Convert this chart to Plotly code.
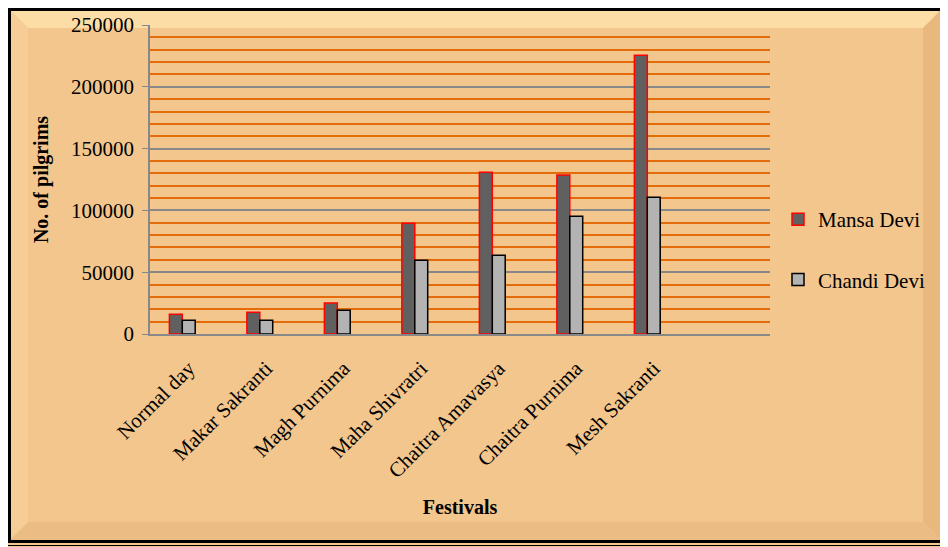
"""
Pilgrims per festival at Mansa Devi and Chandi Devi - grouped bar chart
"""

import plotly.graph_objects as go

# Data
festivals = [
    "Normal day",
    "Makar Sakranti",
    "Magh Purnima",
    "Maha Shivratri",
    "Chaitra Amavasya",
    "Chaitra Purnima",
    "Mesh Sakranti",
]
mansa_devi = [16000, 17500, 25000, 89600, 130800, 128600, 225500]
chandi_devi = [11100, 11100, 19200, 59600, 63700, 95200, 110600]

y_ticks = [0, 50000, 100000, 150000, 200000, 250000]

# Layout geometry (pixels). The page body adds an 8px margin, so the
# figure is drawn 8px smaller and everything is placed in figure pixels.
W, H = 940, 539
ML, MR, MT, MB = 142, 178, 17, 213
PW = W - ML - MR
PH = H - MT - MB

FONT = "Liberation Serif, Times New Roman, serif"
BG = "#F2C68D"


def px_x(p):
    # figure pixel -> paper x
    return (p - ML) / PW


def px_y(p):
    # figure pixel (from top) -> paper y
    return (H - MB - p) / PH


fig = go.Figure()

fig.add_trace(go.Bar(
    x=festivals,
    y=mansa_devi,
    name="Mansa Devi",
    legendgroup="mansa",
    marker=dict(color="#606060", line=dict(color="#FF0000", width=1.5)),
))
fig.add_trace(go.Bar(
    x=festivals,
    y=chandi_devi,
    name="Chandi Devi",
    legendgroup="chandi",
    marker=dict(color="#B3B3B3", line=dict(color="#000000", width=1.5)),
))
# empty third series slot, as in the original spreadsheet chart
fig.add_trace(go.Bar(
    x=festivals,
    y=[None] * len(festivals),
    showlegend=False,
    hoverinfo="skip",
))

# bevelled frame around the whole picture
B = 18  # bevel width
x0, x1 = px_x(2), px_x(W - 7)
y0, y1 = px_y(2), px_y(H - 7)
xi0, xi1 = px_x(2 + B), px_x(W - 7 - B)
yi0, yi1 = px_y(2 + B), px_y(H - 7 - B)


def poly(pts, color):
    path = "M " + " L ".join(f"{a},{b}" for a, b in pts) + " Z"
    return dict(type="path", xref="paper", yref="paper", path=path,
                fillcolor=color, line=dict(width=0), layer="below")


shapes = [
    # whole background
    dict(type="rect", xref="paper", yref="paper", x0=px_x(0), x1=px_x(W),
         y0=px_y(0), y1=px_y(H), fillcolor=BG, line=dict(width=0), layer="below"),
    poly([(x0, y0), (x1, y0), (xi1, yi0), (xi0, yi0)], "#FCDDA6"),  # top
    poly([(x0, y0), (xi0, yi0), (xi0, yi1), (x0, y1)], "#F6CD96"),  # left
    poly([(x1, y0), (x1, y1), (xi1, yi1), (xi1, yi0)], "#E8B87E"),  # right
    poly([(x0, y1), (xi0, yi1), (xi1, yi1), (x1, y1)], "#EBBD84"),  # bottom
    # double black border
    dict(type="rect", xref="paper", yref="paper", x0=px_x(1.5), x1=px_x(W - 5.5),
         y0=px_y(1.5), y1=px_y(H - 5.5), line=dict(color="#000000", width=3)),
    dict(type="rect", xref="paper", yref="paper", x0=px_x(-10), x1=px_x(W - 1.5),
         y0=px_y(-10), y1=px_y(H - 1.5), line=dict(color="#000000", width=1)),
]

fig.update_layout(
    width=W,
    height=H,
    margin=dict(l=ML, r=MR, t=MT, b=MB, autoexpand=False),
    paper_bgcolor=BG,
    plot_bgcolor="#FFFFFF",
    barmode="group",
    bargap=0.5,
    bargroupgap=0,
    font=dict(family=FONT, size=20, color="#000000"),
    shapes=shapes,
    showlegend=True,
    legend=dict(
        x=px_x(770),
        y=px_y(191),
        xanchor="left",
        yanchor="top",
        bgcolor="rgba(0,0,0,0)",
        font=dict(family=FONT, size=21, color="#000000"),
        tracegroupgap=30,
        traceorder="grouped",
    ),
    xaxis=dict(
        type="category",
        range=[-0.5, len(festivals) + 0.5],
        tickangle=-45,
        tickfont=dict(family=FONT, size=21),
        ticks="",
        ticklabelstandoff=12,
        showline=True,
        linecolor="#888888",
        linewidth=1.5,
        showgrid=False,
        title=dict(text="<b>Festivals</b>", font=dict(family=FONT, size=20),
                   standoff=18),
    ),
    yaxis=dict(
        range=[0, 250000],
        tickvals=y_ticks,
        tickformat="d",
        tickfont=dict(family=FONT, size=21),
        ticks="outside",
        ticklen=6,
        tickcolor="#888888",
        ticklabelstandoff=4,
        showline=True,
        linecolor="#888888",
        linewidth=1.5,
        showgrid=True,
        gridcolor="#888888",
        gridwidth=1.5,
        zeroline=False,
        minor=dict(dtick=10000, showgrid=True, gridcolor="#E46C0A",
                   gridwidth=1.5, ticks=""),
        title=dict(text="<b>No. of pilgrims</b>", font=dict(family=FONT, size=20),
                   standoff=17),
    ),
)

fig.write_html("out.html")
